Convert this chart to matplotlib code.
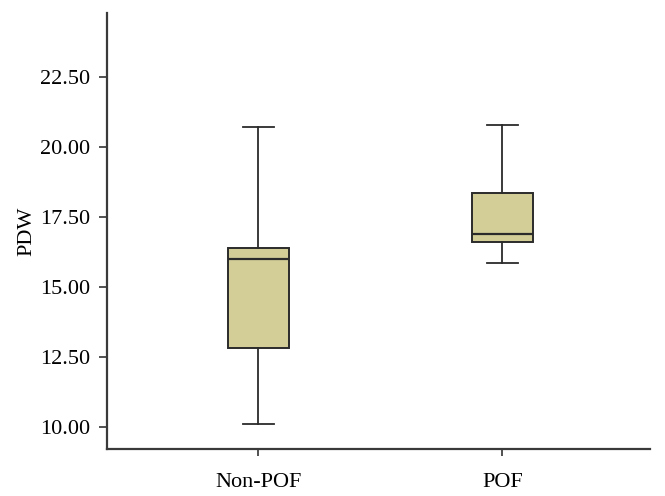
import matplotlib
matplotlib.use("Agg")
import matplotlib.pyplot as plt

categories = ["Non-POF", "POF"]
whislo = [10.09, 15.86]
q1 = [12.80, 16.59]
med = [16.00, 16.88]
q3 = [16.38, 18.34]
whishi = [20.70, 20.78]
yticks = [10.00, 12.50, 15.00, 17.50, 20.00, 22.50]

plt.rcParams['font.family'] = ['Liberation Serif', 'DejaVu Serif']

fig = plt.figure(figsize=(6.65, 4.96), dpi=100)
ax = fig.add_axes([107/665, 47/496, (650-107)/665, (449-13)/496])

stats = []
for i, c in enumerate(categories):
    stats.append(dict(label=c, whislo=whislo[i], q1=q1[i], med=med[i], q3=q3[i], whishi=whishi[i], fliers=[]))

lc = '#2b2b2b'
ax.bxp(stats, positions=[0, 1], widths=0.248, patch_artist=True, showfliers=False,
       boxprops=dict(facecolor='#D3CE98', edgecolor=lc, linewidth=1.4),
       medianprops=dict(color=lc, linewidth=1.6),
       whiskerprops=dict(color=lc, linewidth=1.3),
       capprops=dict(color=lc, linewidth=1.3),
       capwidths=0.125)

ax.set_xlim(-0.62, 1.605)
ax.set_ylim(9.20, 24.79)
ax.set_yticks(yticks)
ax.set_yticklabels([f"{v:.2f}" for v in yticks])
ax.set_ylabel("PDW", fontsize=16, labelpad=3)
ax.tick_params(axis='y', labelsize=16, color='#333333', width=1.2, length=6, direction='out', pad=6)
ax.tick_params(axis='x', labelsize=16, color='#333333', width=1.2, length=5, direction='out', pad=12)
for s in ['top', 'right']:
    ax.spines[s].set_visible(False)
for s in ['left', 'bottom']:
    ax.spines[s].set_color('#3a3a3a')
    ax.spines[s].set_linewidth(1.6)

fig.savefig("out.png", dpi=100)
